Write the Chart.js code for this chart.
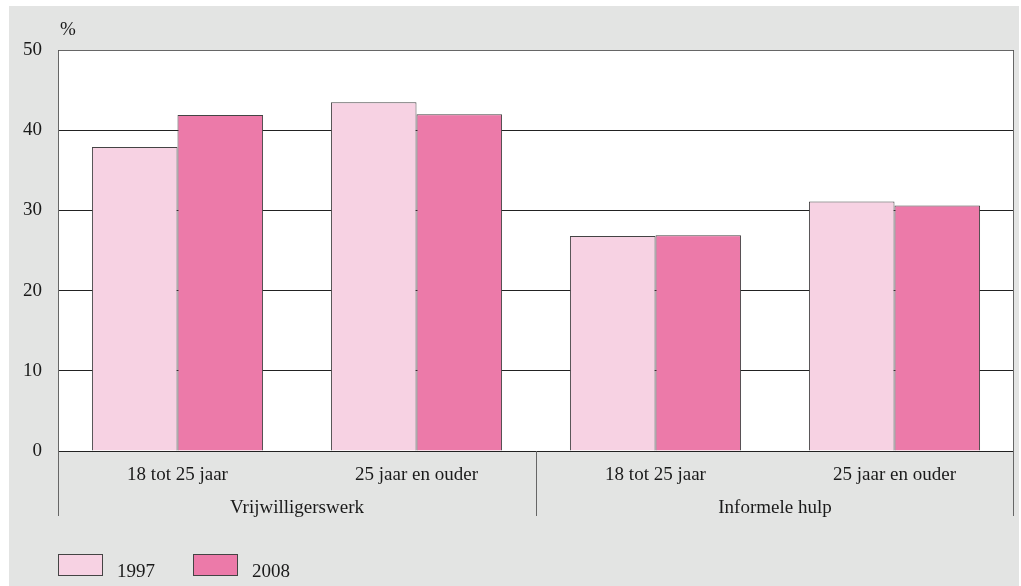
<!DOCTYPE html>
<html>
<head>
<meta charset="utf-8">
<script src="https://cdn.jsdelivr.net/npm/chart.js@4"></script>
<style>
    html, body { margin: 0; padding: 0; background: #ffffff; }
    #wrap { width: 1021px; height: 586px; position: relative; }
</style>
</head>
<body>
<div id="wrap"><canvas id="helpChart" width="1021" height="586"></canvas></div>
<script>
// Gegevens
const categories = ["18 tot 25 jaar", "25 jaar en ouder", "18 tot 25 jaar", "25 jaar en ouder"];
const groups = ["Vrijwilligerswerk", "Informele hulp"];
const years = ["1997", "2008"];
const values1997 = [37.9, 43.5, 26.8, 31.1];
const values2008 = [41.9, 42.0, 26.9, 30.6];
const yTicks = [0, 10, 20, 30, 40, 50];

const FONT = "'Liberation Serif', 'DejaVu Serif', serif";
const LIGHT = "#f7d2e3";
const DARK = "#ec7aa9";
const EDGE = "#444444";

// Achtergrond, kader, groepslabels en legenda
const decorPlugin = {
    id: "decor",
    beforeDraw(chart) {
        const ctx = chart.ctx;
        const a = chart.chartArea;
        ctx.save();
        ctx.fillStyle = "#e3e4e3";
        ctx.fillRect(9, 6, 1010, 580);
        ctx.fillStyle = "#ffffff";
        ctx.fillRect(a.left, a.top, a.right - a.left, a.bottom - a.top);
        ctx.restore();
    },
    afterDraw(chart) {
        const ctx = chart.ctx;
        const a = chart.chartArea;
        const x = chart.scales.x;
        ctx.save();
        // kader
        ctx.strokeStyle = "#666666";
        ctx.lineWidth = 1;
        ctx.beginPath();
        ctx.moveTo(a.left + 0.5, a.bottom);
        ctx.lineTo(a.left + 0.5, a.top + 0.5);
        ctx.lineTo(a.right - 0.5, a.top + 0.5);
        ctx.lineTo(a.right - 0.5, a.bottom);
        ctx.stroke();
        // scheidingslijnen onder de as
        const mid = (x.getPixelForValue(1) + x.getPixelForValue(2)) / 2;
        [a.left + 0.5, Math.round(mid) + 0.5, a.right - 0.5].forEach(function (px) {
            ctx.beginPath();
            ctx.moveTo(px, a.bottom);
            ctx.lineTo(px, a.bottom + 65);
            ctx.stroke();
        });
        // groepslabels
        ctx.fillStyle = "#1a1a1a";
        ctx.font = "19px " + FONT;
        ctx.textAlign = "center";
        ctx.textBaseline = "middle";
        ctx.fillText(groups[0], (a.left + mid) / 2, 508);
        ctx.fillText(groups[1], (mid + a.right) / 2, 508);
        // eenheid
        ctx.textAlign = "left";
        ctx.fillText("%", 60, 30);
        // legenda
        const items = [[LIGHT, 58], [DARK, 193]];
        items.forEach(function (it, i) {
            ctx.fillStyle = it[0];
            ctx.fillRect(it[1], 554, 45, 22);
            ctx.strokeStyle = EDGE;
            ctx.strokeRect(it[1] + 0.5, 554.5, 44, 21);
            ctx.fillStyle = "#1a1a1a";
            ctx.textBaseline = "alphabetic";
            ctx.fillText(years[i], it[1] + 59, 577);
        });
        ctx.restore();
    },
};

const helpCtx = document.getElementById("helpChart")?.getContext("2d");
if (helpCtx) {
    const helpChart = new Chart(helpCtx, {
        type: "bar",
        data: {
            labels: categories,
            datasets: [
                {
                    label: years[0],
                    data: values1997,
                    backgroundColor: LIGHT,
                    borderColor: EDGE,
                    borderWidth: 1,
                    categoryPercentage: 0.716,
                    barPercentage: 1,
                },
                {
                    label: years[1],
                    data: values2008,
                    backgroundColor: DARK,
                    borderColor: EDGE,
                    borderWidth: 1,
                    categoryPercentage: 0.716,
                    barPercentage: 1,
                },
            ],
        },
        options: {
            responsive: false,
            animation: false,
            layout: {
                padding: { top: 50, right: 7, left: 0, bottom: 0 },
            },
            plugins: {
                legend: { display: false },
                tooltip: { enabled: false },
            },
            scales: {
                x: {
                    afterFit: function (scale) {
                        scale.height = 135;
                    },
                    grid: { display: false, drawTicks: false },
                    border: { display: false },
                    ticks: {
                        padding: 13,
                        color: "#1a1a1a",
                        font: { size: 19, family: FONT },
                        maxRotation: 0,
                    },
                },
                y: {
                    min: 0,
                    max: 50,
                    afterFit: function (scale) {
                        scale.width = 58;
                    },
                    afterBuildTicks: function (scale) {
                        scale.ticks = yTicks.map(function (v) {
                            return { value: v };
                        });
                    },
                    grid: {
                        color: "#222222",
                        lineWidth: 1,
                        drawTicks: false,
                    },
                    border: { display: false },
                    ticks: {
                        padding: 16,
                        color: "#1a1a1a",
                        font: { size: 19, family: FONT },
                    },
                },
            },
        },
        plugins: [decorPlugin],
    });
}
</script>
</body>
</html>
